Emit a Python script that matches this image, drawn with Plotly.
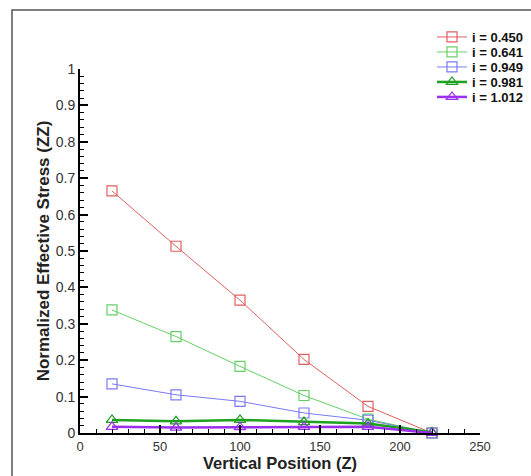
import plotly.graph_objects as go

z = [20, 60, 100, 140, 180, 220]
labels = ["i = 0.450", "i = 0.641", "i = 0.949", "i = 0.981", "i = 1.012"]
s_0450 = [0.665, 0.513, 0.365, 0.202, 0.073, 0.000]
s_0641 = [0.338, 0.265, 0.183, 0.103, 0.038, 0.000]
s_0949 = [0.135, 0.105, 0.087, 0.055, 0.035, 0.000]
s_0981 = [0.036, 0.032, 0.036, 0.030, 0.026, 0.002]
s_1012 = [0.017, 0.015, 0.016, 0.017, 0.017, 0.000]

series = [s_0450, s_0641, s_0949, s_0981, s_1012]
colors = ["#e06060", "#66d066", "#7a7aee", "#1fa01f", "#9a30ee"]
widths = [1, 1, 1, 2.5, 2.5]
symbols = ["square-open", "square-open", "square-open", "triangle-up-open", "triangle-up-open"]

font = "Liberation Sans, Arial, sans-serif"
W, H = 531, 476

fig = go.Figure()
legend_keys = ["legend", "legend2", "legend3", "legend4", "legend5"]
for k, (lab, ys, c, w, s) in enumerate(zip(labels, series, colors, widths, symbols)):
    fig.add_trace(go.Scatter(
        x=z, y=ys, name=lab, mode="lines+markers",
        line=dict(color=c, width=w),
        marker=dict(symbol=s, size=10, color=c, line=dict(width=1.2, color=c)),
        cliponaxis=False, legend=legend_keys[k],
    ))

legend_layout = {}
for k, key in enumerate(legend_keys):
    legend_layout[key] = dict(
        xref="container", yref="container",
        x=432 / W, y=1 - (37 + 15 * k) / H, xanchor="left", yanchor="middle",
        font=dict(family=font, size=13, color="#111", weight="bold"),
        bgcolor="rgba(0,0,0,0)", borderwidth=0, itemwidth=30,
    )

fig.update_layout(
    width=W, height=H,
    margin=dict(l=80, r=51, t=69, b=43, autoexpand=False),
    paper_bgcolor="white", plot_bgcolor="white",
    font=dict(family=font, size=14, color="#333"),
    showlegend=True,
    xaxis=dict(range=[0, 250], tickvals=[0, 50, 100, 150, 200, 250], automargin=False,
               showgrid=False, zeroline=False, showline=True, linecolor="black", linewidth=2,
               ticks="inside", ticklen=8, tickwidth=2, tickcolor="black",
               minor=dict(dtick=10, ticks="inside", ticklen=4, tickwidth=1, tickcolor="black", showgrid=False),
               title=dict(text="Vertical Position (Z)", standoff=0,
                          font=dict(family=font, size=16.5, color="#222", weight="bold")),
               tickfont=dict(size=13, color="#333")),
    yaxis=dict(range=[0, 1], tickvals=[0, 0.1, 0.2, 0.3, 0.4, 0.5, 0.6, 0.7, 0.8, 0.9, 1],
               ticktext=["0", "0.1", "0.2", "0.3", "0.4", "0.5", "0.6", "0.7", "0.8", "0.9", "1"],
               automargin=False,
               showgrid=False, zeroline=False, showline=True, linecolor="black", linewidth=2,
               ticks="inside", ticklen=8, tickwidth=2, tickcolor="black",
               minor=dict(dtick=0.02, ticks="inside", ticklen=4, tickwidth=1, tickcolor="black", showgrid=False),
               title=dict(text="Normalized Effective Stress (ZZ)", standoff=2,
                          font=dict(family=font, size=17, color="#222", weight="bold")),
               tickfont=dict(size=14, color="#333")),
    **legend_layout,
)

# outer frame (left and top edges visible)
fig.add_shape(type="path", xref="paper", yref="paper",
              path="M -0.17,-0.3 L -0.17,1.162 L 1.3,1.162",
              line=dict(color="#555", width=1.5))

fig.write_html("out.html", config={"displayModeBar": False},
               post_script="document.body.style.margin='0';document.body.style.overflow='hidden';")
